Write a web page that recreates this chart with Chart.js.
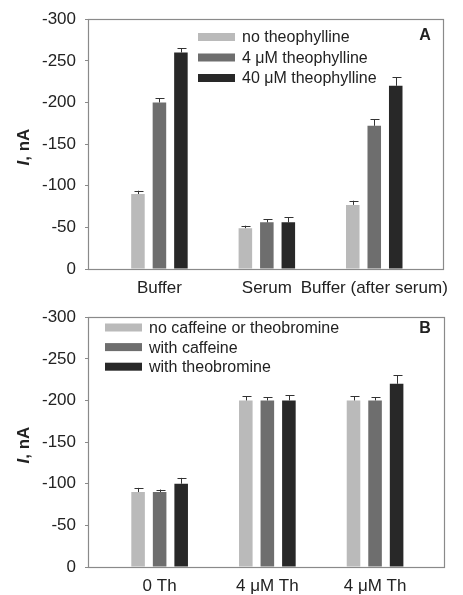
<!DOCTYPE html>
<html>
<head>
<meta charset="utf-8">
<script src="https://cdn.jsdelivr.net/npm/chart.js@4.4.1/dist/chart.umd.min.js"></script>
<style>
  body { margin: 0; background: #fff; }
  canvas { display: block; }
</style>
</head>
<body>
<canvas id="chartA" width="463" height="298"></canvas>
<canvas id="chartB" width="463" height="297"></canvas>
<script>
// ===== data, panel A
var catsA = ["Buffer", "Serum", "Buffer (after serum)"];
var seriesA = ["no theophylline", "4 \u03bcM theophylline", "40 \u03bcM theophylline"];
var noTheo = [-90, -49, -77];
var noTheoErr = [4, 3, 5];
var theo4 = [-200, -56, -172];
var theo4Err = [5, 4, 8];
var theo40 = [-260, -56, -220];
var theo40Err = [5, 6, 10];

// ===== data, panel B
var catsB = ["0 Th", "4 \u03bcM Th", "4 \u03bcM Th"];
var seriesB = ["no caffeine or theobromine", "with caffeine", "with theobromine"];
var noCaf = [-90, -200, -200];
var noCafErr = [5, 5, 5];
var withCaf = [-90, -200, -200];
var withCafErr = [3, 4, 4];
var withTheob = [-100, -200, -220];
var withTheobErr = [7, 6, 10];

var yTicks = [0, -50, -100, -150, -200, -250, -300];

var barColors = ["#bababa", "#6e6e6e", "#282828"];
var FONT = '"Liberation Sans", Arial, sans-serif';

// error bars, legend, frame, axis title, panel letter
var decor = {
  id: "decor",
  afterDatasetsDraw: function (chart, args, o) {
    var ctx = chart.ctx;
    var y = chart.scales.y;
    ctx.save();
    ctx.strokeStyle = "#333";
    ctx.lineWidth = 1;
    chart.data.datasets.forEach(function (ds, i) {
      chart.getDatasetMeta(i).data.forEach(function (bar, j) {
        var top = y.getPixelForValue(ds.data[j].y - ds.errors[j]);
        var x = Math.round(bar.x) + 0.5;
        ctx.beginPath();
        ctx.moveTo(x, bar.y);
        ctx.lineTo(x, top);
        ctx.moveTo(x - 4, Math.round(top) + 0.5);
        ctx.lineTo(x + 5, Math.round(top) + 0.5);
        ctx.stroke();
      });
    });
    ctx.restore();
  },
  afterDraw: function (chart, args, o) {
    var ctx = chart.ctx;
    var a = chart.chartArea;
    ctx.save();
    // frame
    ctx.strokeStyle = "#8a8a8a";
    ctx.lineWidth = 1.2;
    ctx.strokeRect(Math.round(a.left) + 0.5, Math.round(a.top) + 0.5,
      Math.round(a.right - a.left), Math.round(a.bottom - a.top));

    // legend
    ctx.font = "16px " + FONT;
    ctx.textBaseline = "middle";
    ctx.textAlign = "left";
    chart.data.datasets.forEach(function (ds, i) {
      var cy = o.legendY + i * o.legendGap;
      ctx.fillStyle = ds.backgroundColor;
      ctx.fillRect(o.legendX, cy - 4, 37, 8);
      ctx.fillStyle = "#222";
      ctx.fillText(ds.label, o.legendX + 44, cy + 1);
    });

    // panel letter
    ctx.font = "bold 16px " + FONT;
    ctx.textAlign = "center";
    ctx.fillText(o.letter, 425, o.letterY);

    // y axis title: italic I, nA
    var cy2 = (a.top + a.bottom) / 2 + 3;
    ctx.translate(24, cy2);
    ctx.rotate(-Math.PI / 2);
    var f1 = "italic bold 17px " + FONT, f2 = "bold 17px " + FONT;
    ctx.font = f1;
    var w1 = ctx.measureText("I").width;
    ctx.font = f2;
    var w2 = ctx.measureText(", nA").width;
    ctx.textAlign = "left";
    ctx.font = f1;
    ctx.fillText("I", -(w1 + w2) / 2, 0);
    ctx.font = f2;
    ctx.fillText(", nA", -(w1 + w2) / 2 + w1, 0);
    ctx.restore();
  }
};

function makeChart(id, cats, series, values, errors, o) {
  var datasets = series.map(function (name, i) {
    return {
      label: name,
      data: values[i].map(function (v, j) { return { x: j + 1, y: v }; }),
      errors: errors[i],
      backgroundColor: barColors[i],
      borderWidth: 0,
      categoryPercentage: 0.6,
      barPercentage: 0.63
    };
  });

  return new Chart(document.getElementById(id), {
    type: "bar",
    data: { datasets: datasets },
    plugins: [decor],
    options: {
      responsive: false,
      animation: false,
      layout: { padding: { top: o.padTop, right: o.padRight, left: 0, bottom: 0 } },
      plugins: {
        legend: { display: false },
        tooltip: { enabled: false },
        decor: o
      },
      scales: {
        x: {
          type: "linear",
          min: 0.335,
          max: 3.64,
          offset: false,
          grid: { display: false, drawTicks: false, offset: false },
          border: { display: false },
          afterBuildTicks: function (s) {
            s.ticks = cats.map(function (c, i) { return { value: i + 1 }; });
          },
          afterFit: function (s) {
            s.height = o.xHeight;
            s.paddingLeft = 0;
            s.paddingRight = 0;
          },
          ticks: {
            autoSkip: false,
            maxRotation: 0,
            minRotation: 0,
            padding: 9,
            color: "#222",
            font: { family: FONT, size: 17 },
            callback: function (v) { return cats[Math.round(v) - 1]; }
          }
        },
        y: {
          min: -300,
          max: 0,
          reverse: true,
          grid: { drawOnChartArea: false, tickLength: 3, color: "#8a8a8a" },
          border: { display: false },
          afterBuildTicks: function (s) {
            s.ticks = yTicks.map(function (v) { return { value: v }; });
          },
          afterFit: function (s) { s.width = 88; },
          ticks: {
            padding: 9,
            color: "#222",
            font: { family: FONT, size: 17 },
            callback: function (v) { return String(v); }
          }
        }
      }
    }
  });
}

var chartA = makeChart("chartA", catsA, seriesA,
  [noTheo, theo4, theo40], [noTheoErr, theo4Err, theo40Err],
  { padTop: 18, padRight: 20, xHeight: 29, legendX: 198, legendY: 37, legendGap: 20.5, letter: "A", letterY: 36 });

var chartB = makeChart("chartB", catsB, seriesB,
  [noCaf, withCaf, withTheob], [noCafErr, withCafErr, withTheobErr],
  { padTop: 10, padRight: 19, xHeight: 28, legendX: 105, legendY: 29.5, legendGap: 19.6, letter: "B", letterY: 31 });
</script>
</body>
</html>
